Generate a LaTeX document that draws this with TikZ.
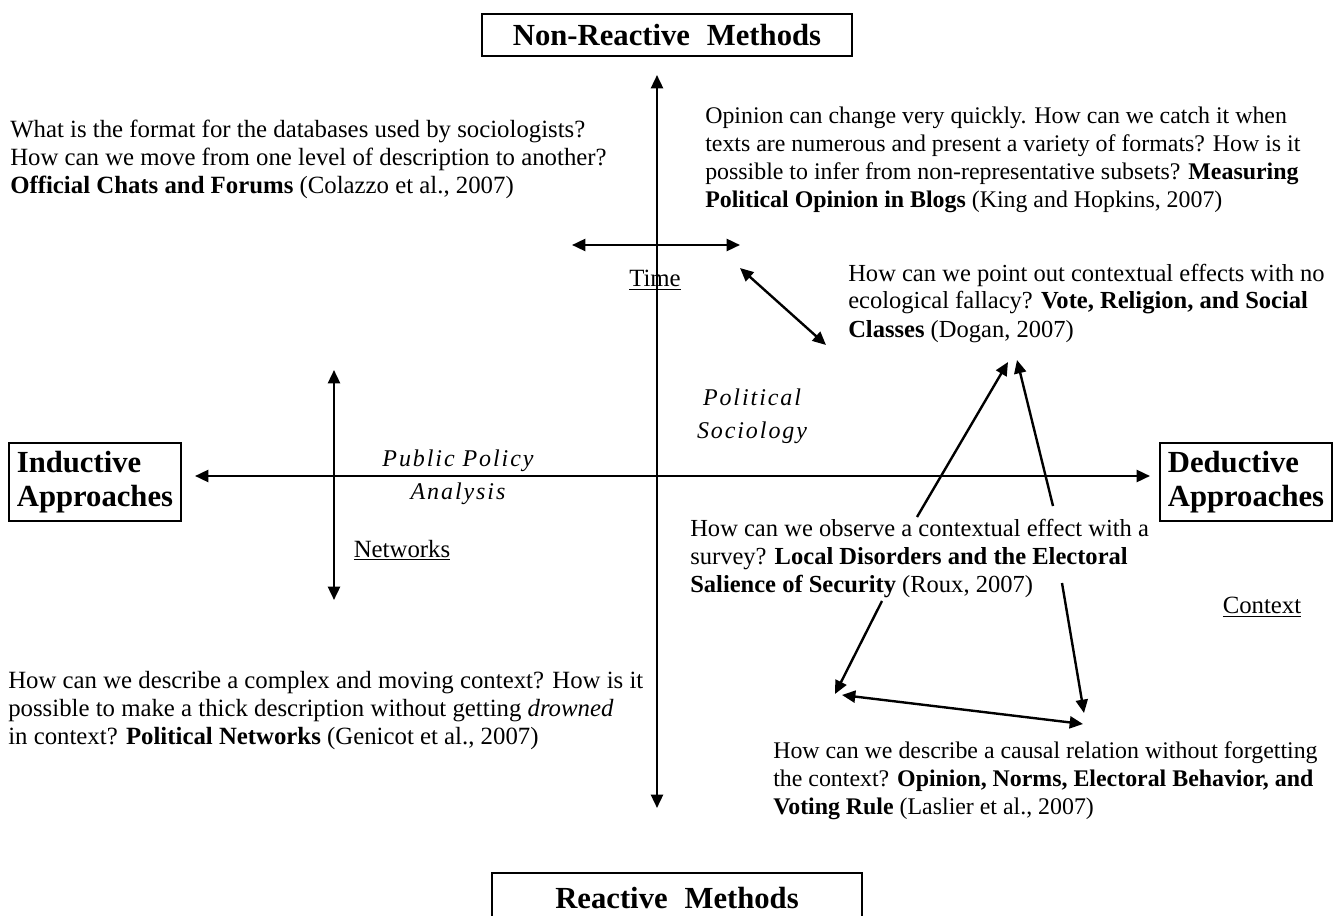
\documentclass[tikz,border=0pt]{standalone}
\usepackage{fontspec}
\setmainfont{Liberation Serif}
\usetikzlibrary{arrows.meta}

\begin{document}
\begin{tikzpicture}[x=0.75pt, y=-0.75pt,
        question/.style={anchor=base west, align=left, inner sep=0pt, font=\fontsize{18.6}{21}\selectfont},
        pole/.style={rectangle, draw, line width=1.4pt, font=\fontsize{23}{26}\selectfont\bfseries},
        field/.style={align=center, inner sep=0pt, font=\fontsize{18}{25}\selectfont\itshape\addfontfeature{LetterSpace=8}},
        dim/.style={inner sep=0pt, font=\fontsize{18.6}{21}\selectfont},
        axis/.style={line width=1.8pt, {Triangle[length=10pt,width=9pt]}-{Triangle[length=10pt,width=9pt]}},
        link/.style={line width=1.8pt, -{Triangle[length=10pt,width=9pt]}}
    ]
        \useasboundingbox (0,0) rectangle (1335,916);

        % Poles
        \node[pole, minimum width=277pt, minimum height=31pt] (nonreactive) at (667,35) {Non-Reactive\hspace{0.3em} Methods};
        \node[pole, minimum width=277pt, minimum height=38pt] (reactive) at (677,898) {Reactive\hspace{0.3em} Methods};
        \node[pole, align=left, inner xsep=6pt, inner ysep=6pt] (inductive) at (95,482) {Inductive\\Approaches};
        \node[pole, align=left, inner xsep=6pt, inner ysep=6pt] (deductive) at (1246,482) {Deductive\\Approaches};

        % Axis ends
        \coordinate (hl) at (195,476);
        \coordinate (hr) at (1150,476);
        \coordinate (vt) at (657,75);
        \coordinate (vb) at (657,808);
        \coordinate (tl) at (572,245);
        \coordinate (tr) at (740,245);
        \coordinate (nt) at (334,370);
        \coordinate (nb) at (334,600);

        % Axes
        \draw[axis] (hl) -- (hr);
        \draw[axis] (vt) -- (vb);
        \draw[axis] (tl) -- (tr);
        \draw[axis] (nt) -- (nb);

        % Fields and dimensions
        \node[field] (policy) at (458,477) {Public Policy\\Analysis};
        \node[field] (sociology) at (752,416) {Political\\Sociology};
        \node[dim] (time) at (655,280) {\underline{Time}};
        \node[dim] (networks) at (402,550) {\underline{Networks}};
        \node[dim] (context) at (1262,607) {\underline{Context}};

        % Questions (anchored on their last baseline)
        \node[question] (chats) at (10,194) {What is the format for the databases used by sociologists?\\How can we move from one level of description to another?\\\textbf{Official Chats and Forums} (Colazzo et al., 2007)};
        \node[question, font=\fontsize{17.9}{21}\selectfont] (blogs) at (705,208) {Opinion can change very quickly. How can we catch it when\\texts are numerous and present a variety of formats? How is it\\possible to infer from non-representative subsets? \textbf{Measuring}\\\textbf{Political Opinion in Blogs} (King and Hopkins, 2007)};
        \node[question, font=\fontsize{18.4}{21}\selectfont] (vote) at (848,337) {How can we point out contextual effects with no\\ecological fallacy? \textbf{Vote, Religion, and Social}\\\textbf{Classes} (Dogan, 2007)};
        \node[question, font=\fontsize{18.4}{21}\selectfont] (disorders) at (690,592) {How can we observe a contextual effect with a\\survey? \textbf{Local Disorders and the Electoral}\\\textbf{Salience of Security} (Roux, 2007)};
        \node[question] (genicot) at (8,744) {How can we describe a complex and moving context? How is it\\possible to make a thick description without getting \textit{drowned}\\in context? \textbf{Political Networks} (Genicot et al., 2007)};
        \node[question, font=\fontsize{17.9}{21}\selectfont] (voting) at (773,814) {How can we describe a causal relation without forgetting\\the context? \textbf{Opinion, Norms, Electoral Behavior, and}\\\textbf{Voting Rule} (Laslier et al., 2007)};

        % Links between questions
        \coordinate (d1) at (740,268);
        \coordinate (d2) at (826,345);
        \coordinate (r1) at (917,517);
        \coordinate (r2) at (1053,506);
        \coordinate (r3) at (882,601);
        \coordinate (r4) at (1062,583);
        \coordinate (v1) at (1008,362);
        \coordinate (v2) at (1017,360);
        \coordinate (l1) at (835,694);
        \coordinate (l2) at (842,695);
        \coordinate (l3) at (1083,724);
        \coordinate (l4) at (1084,713);
        \draw[axis] (d1) -- (d2);
        \draw[link] (r1) -- (v1);
        \draw[link] (r2) -- (v2);
        \draw[link] (r3) -- (l1);
        \draw[link] (r4) -- (l4);
        \draw[axis] (l2) -- (l3);
    \end{tikzpicture}
\end{document}
